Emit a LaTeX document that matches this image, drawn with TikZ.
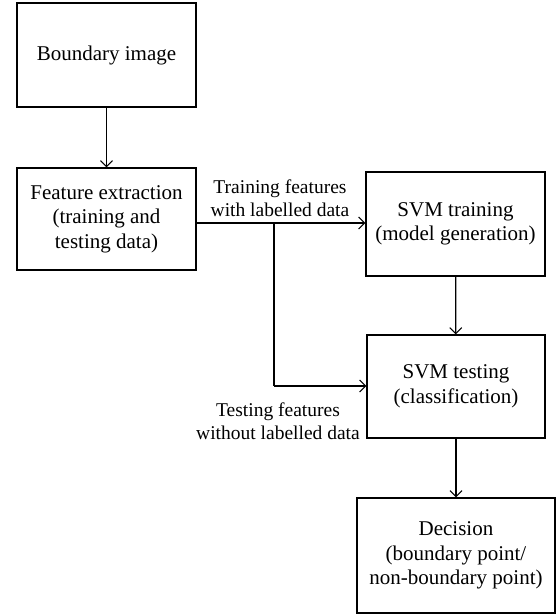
\documentclass[tikz,border=0pt]{standalone}
\usepackage{fontspec}
\setmainfont{Liberation Serif}
\usetikzlibrary{arrows.meta}
\begin{document}
\begin{tikzpicture}[x=1pt,y=-1pt,
  font=\fontsize{21}{24.5}\selectfont,
  box/.style={draw, line width=1.2pt, align=center, inner sep=0pt},
  flow/.style={draw, line width=1.2pt, -{Straight Barb[length=6pt,width=12pt,line width=1.1pt]}},
  note/.style={align=center, inner sep=0pt, font=\fontsize{19.5}{23.5}\selectfont}]
  \useasboundingbox (0,0) rectangle (556,615);
  % process boxes
  \node[box, minimum width=179pt, minimum height=104pt] (img) at (106.5,55) {Boundary image};
  \node[box, minimum width=179pt, minimum height=102pt] (feat) at (106.5,219) {Feature extraction\\(training and\\testing data)};
  \node[box, minimum width=179pt, minimum height=104pt] (train) at (455.5,224) {SVM training\\(model generation)};
  \node[box, minimum width=178pt, minimum height=103pt] (test) at (456,386.5) {SVM testing\\(classification)};
  \node[box, minimum width=198pt, minimum height=115pt] (dec) at (456,555.5) {Decision\\(boundary point/\\non-boundary point)};
  % branch point of the feature lines
  \coordinate (split) at (274,223);
  \coordinate (tin) at (274,386);
  % connectors
  \draw[flow] (img) -- (feat);
  \draw[flow] (split -| feat.east) -- (split -| train.west);
  \draw[line width=1.2pt] (split) -- (tin);
  \draw[flow] (tin) -- (tin -| test.west);
  \draw[flow] (train) -- (test);
  \draw[flow] (test) -- (dec);
  % connector labels
  \node[note] (ltrain) at (280,198) {Training features\\with labelled data};
  \node[note] (ltest) at (278,421) {Testing features\\without labelled data};
\end{tikzpicture}
\end{document}
